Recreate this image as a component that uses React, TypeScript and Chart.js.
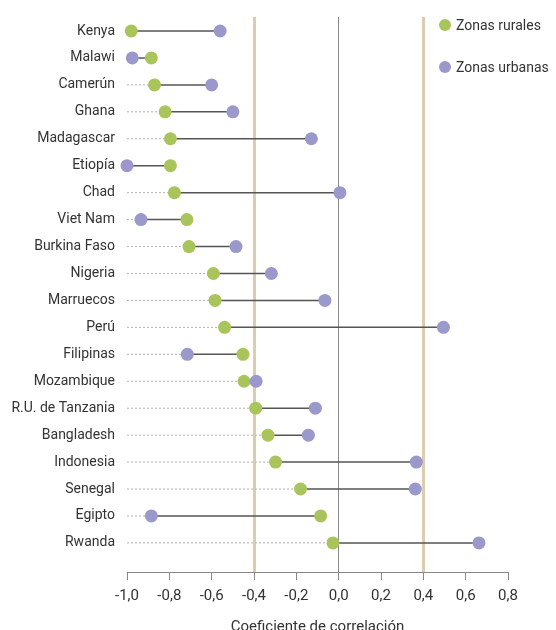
import React, { useEffect, useRef } from "react";
import { Chart, registerables } from "chart.js";

Chart.register(...registerables);

const countries = [
  "Kenya", "Malawi", "Camerún", "Ghana", "Madagascar", "Etiopía", "Chad", "Viet Nam",
  "Burkina Faso", "Nigeria", "Marruecos", "Perú", "Filipinas", "Mozambique",
  "R.U. de Tanzania", "Bangladesh", "Indonesia", "Senegal", "Egipto", "Rwanda",
];
const rural = [-0.98, -0.885, -0.87, -0.82, -0.795, -0.795, -0.776, -0.717, -0.707, -0.592, -0.584, -0.539, -0.452, -0.447, -0.392, -0.334, -0.298, -0.18, -0.085, -0.027];
const urban = [-0.56, -0.975, -0.6, -0.5, -0.129, -1.0, 0.006, -0.934, -0.485, -0.318, -0.065, 0.495, -0.715, -0.39, -0.11, -0.143, 0.367, 0.362, -0.885, 0.663];
const seriesLabels = ["Zonas rurales", "Zonas urbanas"];
const xMin = -1.0;
const xMax = 0.8;
const refLines = [-0.4, 0.4];

const GREEN = "#a9c45b";
const PURPLE = "#9b98cc";
const FONT = "Roboto, 'DejaVu Sans Condensed', sans-serif";
const FS = 14;

export default function App() {
  const ref = useRef<HTMLCanvasElement | null>(null);
  useEffect(() => {
    document.body.style.marginBottom = "0";
    document.documentElement.style.overflow = "hidden";
    const solid: any[] = [];
    const dotted: any[] = [];
    countries.forEach((_, i) => {
      solid.push({ x: rural[i], y: i }, { x: urban[i], y: i }, { x: null, y: null });
      dotted.push({ x: xMin, y: i }, { x: Math.min(rural[i], urban[i]), y: i }, { x: null, y: null });
    });
    const legendPlugin = {
      id: "customLegend",
      afterDraw(chart: any) {
        const ctx = chart.ctx;
        const items = [
          { label: seriesLabels[0], color: GREEN },
          { label: seriesLabels[1], color: PURPLE },
        ];
        ctx.save();
        ctx.font = `${FS}px ${FONT}`;
        ctx.textBaseline = "middle";
        ctx.textAlign = "left";
        items.forEach((it, k) => {
          const cy = 17 + k * 42;
          ctx.beginPath();
          ctx.fillStyle = it.color;
          ctx.arc(437, cy, 6, 0, Math.PI * 2);
          ctx.fill();
          ctx.fillStyle = "#333";
          ctx.fillText(it.label, 448, cy + 1);
        });
        ctx.restore();
      },
    };
    const near = (v: number, t: number) => Math.abs(v - t) < 1e-6;
    const chart = new Chart(ref.current!, {
      type: "scatter",
      data: {
        datasets: [
          { label: seriesLabels[1], data: urban.map((v, i) => ({ x: v, y: i })), backgroundColor: PURPLE, borderWidth: 0, pointRadius: 6.5, pointHoverRadius: 6.5, clip: false },
          { label: seriesLabels[0], data: rural.map((v, i) => ({ x: v, y: i })), backgroundColor: GREEN, borderWidth: 0, pointRadius: 6.5, pointHoverRadius: 6.5, clip: false },
          { label: "solid", data: solid, showLine: true, pointRadius: 0, borderColor: "#555", borderWidth: 1.5, spanGaps: false },
          { label: "dotted", data: dotted, showLine: true, pointRadius: 0, borderColor: "#b0b0b0", borderWidth: 1, borderDash: [2, 2], spanGaps: false },
        ],
      },
      options: {
        responsive: false,
        animation: false,
        layout: { padding: { top: 9, right: 48, left: 0, bottom: 0 } },
        plugins: { legend: { display: false }, tooltip: { enabled: false } },
        scales: {
          x: {
            type: "linear",
            min: xMin,
            max: xMax,
            afterFit: (scale: any) => {
              scale.height = 76;
              scale.paddingLeft = 0;
              scale.paddingRight = 0;
            },
            ticks: {
              stepSize: 0.2,
              padding: 7,
              color: "#333",
              font: { family: FONT, size: FS + 1 },
              callback: (v: any) => Number(v).toFixed(1).replace(".", ","),
            },
            grid: {
              drawTicks: true,
              tickLength: 8,
              tickColor: "#888",
              tickWidth: 1,
              color: (c: any) => {
                const v = c.tick ? c.tick.value : NaN;
                if (near(v, 0)) return "#8a8a8a";
                if (refLines.some((r) => near(v, r))) return "#dccdb0";
                return "rgba(0,0,0,0)";
              },
              lineWidth: (c: any) => {
                const v = c.tick ? c.tick.value : NaN;
                if (refLines.some((r) => near(v, r))) return 3;
                return 1;
              },
            },
            border: { display: true, color: "#888", width: 1 },
            title: {
              display: true,
              text: "Coeficiente de correlación",
              color: "#333",
              font: { family: FONT, size: FS + 1 },
              padding: { top: 8, bottom: 12 },
            },
          },
          y: {
            type: "linear",
            reverse: true,
            min: -0.52,
            max: 20.08,
            afterBuildTicks: (scale: any) => {
              scale.ticks = countries.map((_, i) => ({ value: i }));
            },
            afterFit: (scale: any) => {
              scale.width = 119;
              scale.paddingTop = 0;
              scale.paddingBottom = 0;
            },
            ticks: {
              autoSkip: false,
              padding: 12,
              color: "#333",
              font: { family: FONT, size: FS },
              callback: (v: any) => countries[Math.round(Number(v))] ?? "",
            },
            grid: { display: false, drawTicks: false },
            border: { display: false },
          },
        },
      },
      plugins: [legendPlugin],
    });
    return () => chart.destroy();
  }, []);
  return (
    <div style={{ width: 548, height: 622, overflow: "hidden" }}>
      <canvas ref={ref} width={548} height={640} style={{ display: "block" }} />
    </div>
  );
}
